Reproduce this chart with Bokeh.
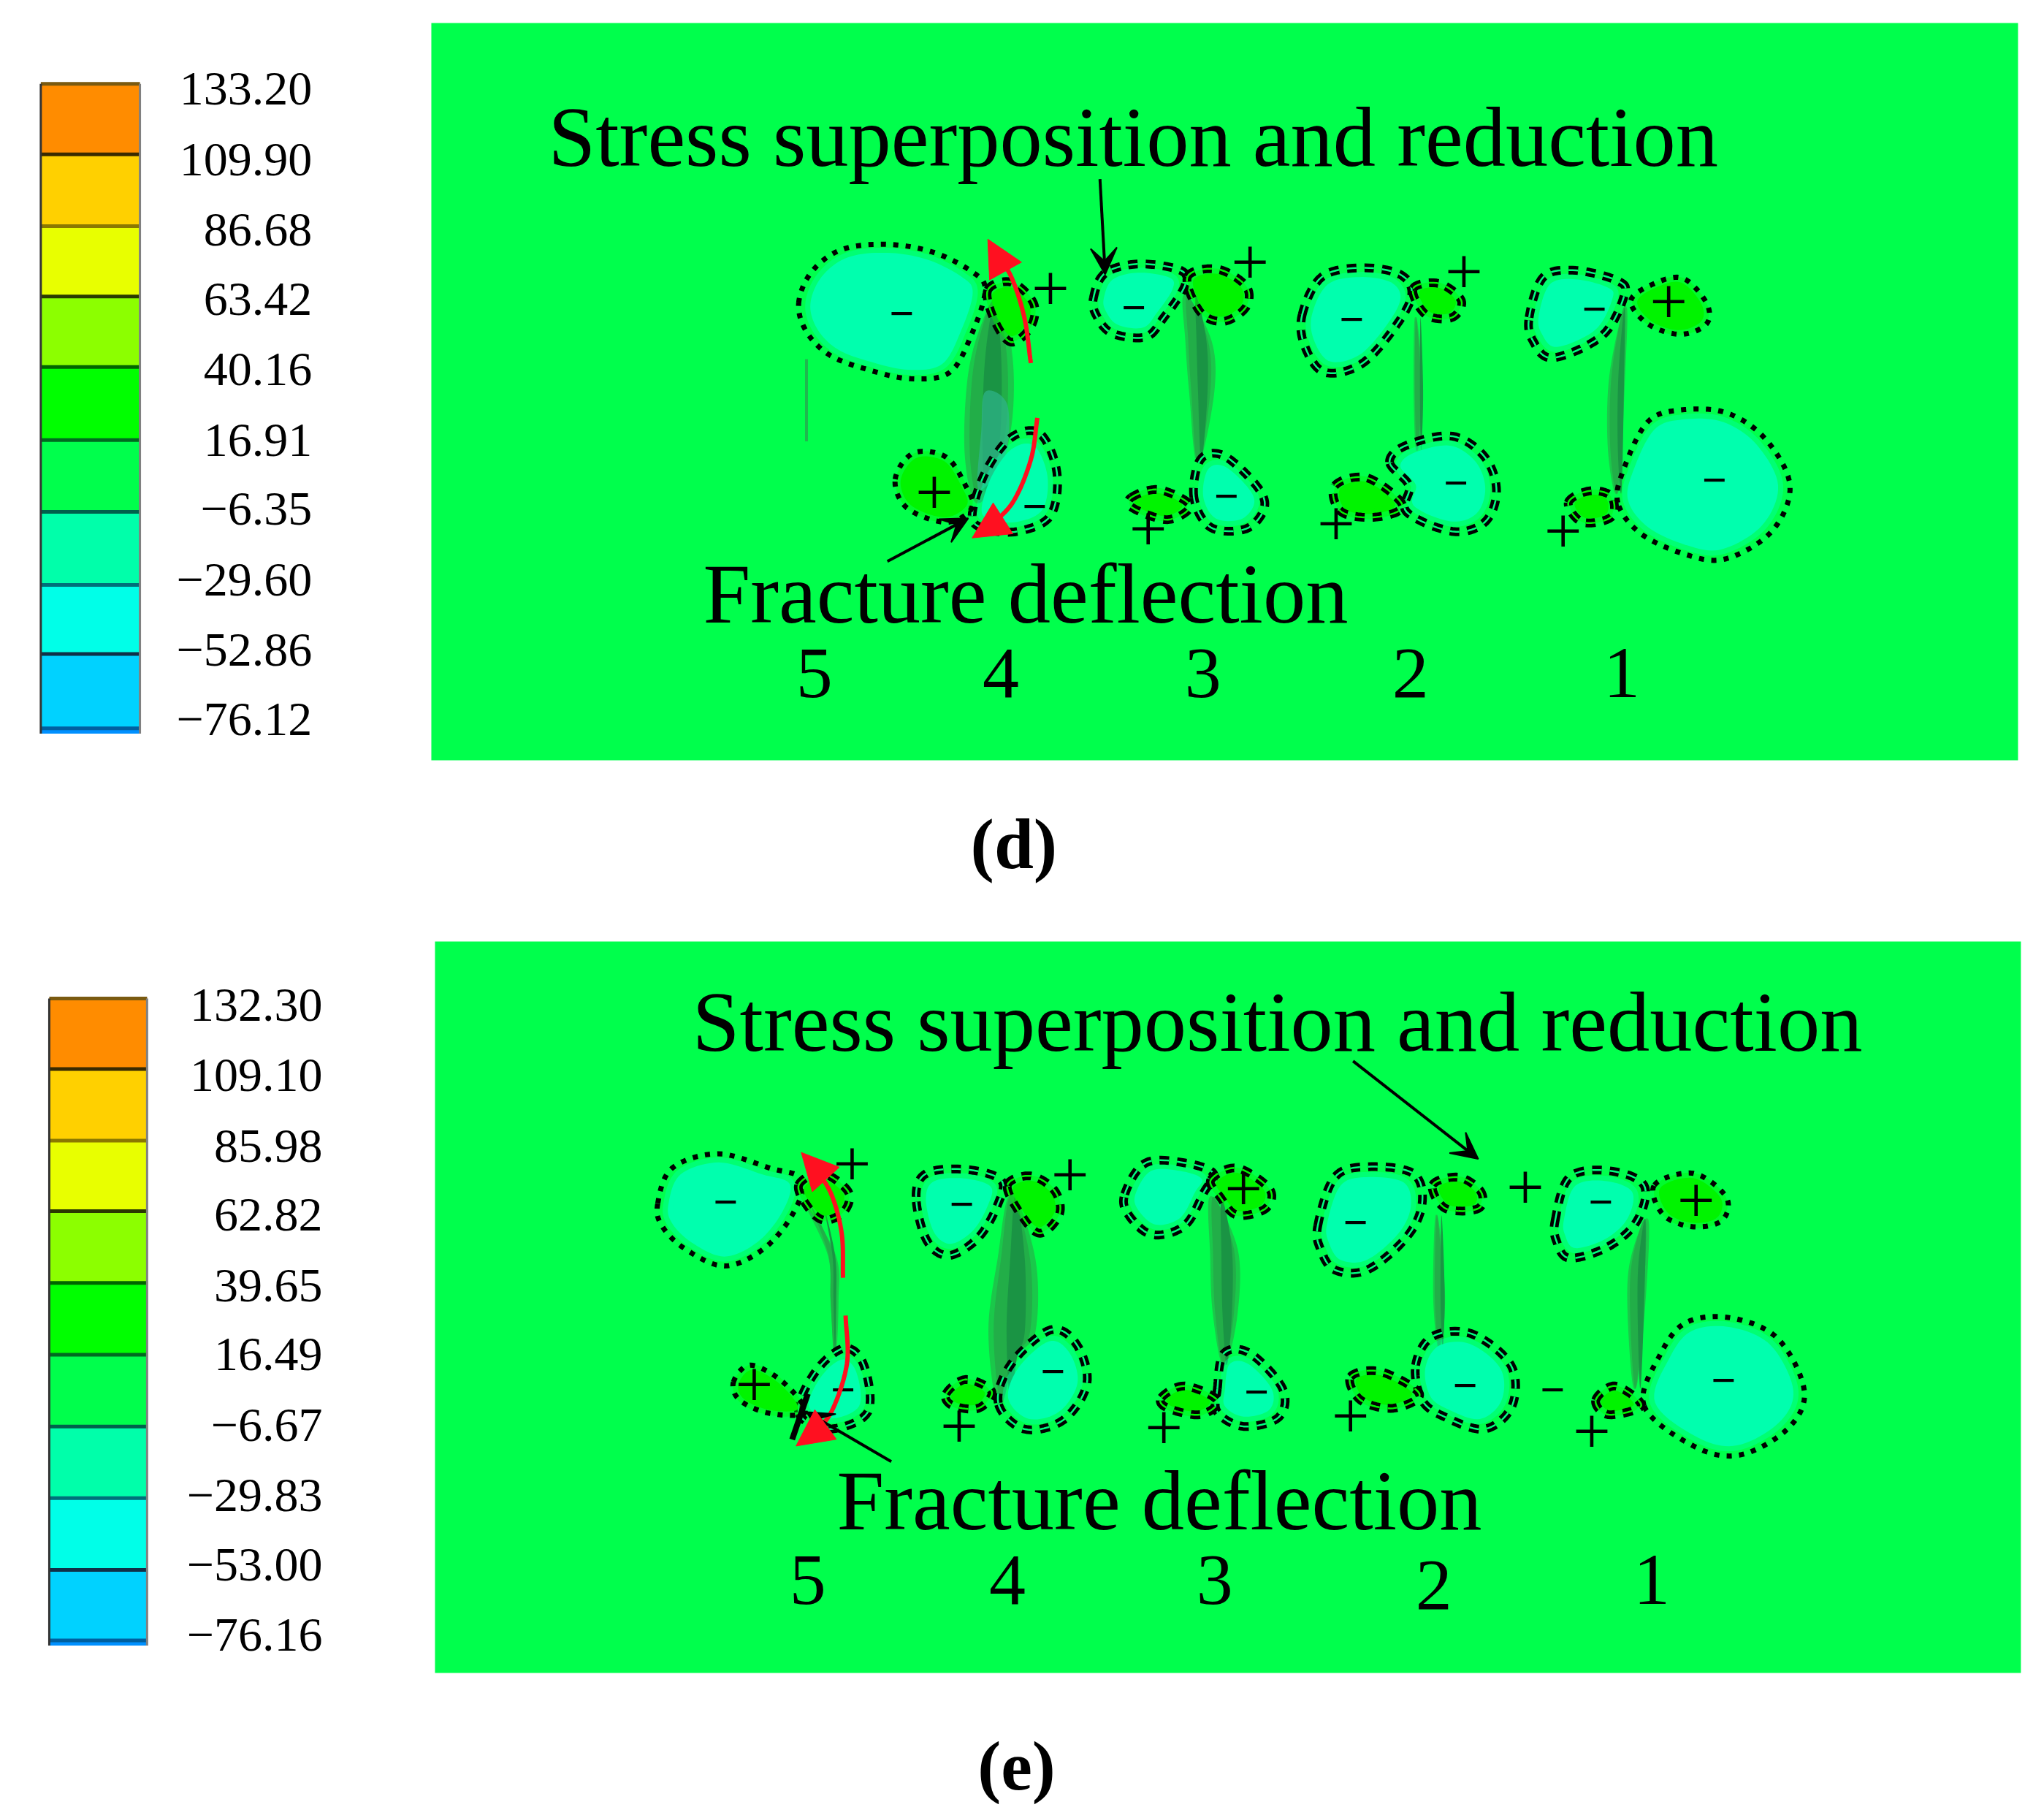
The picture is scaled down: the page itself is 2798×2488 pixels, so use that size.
import numpy as np
from bokeh.plotting import figure
from bokeh.models import Arrow, NormalHead, VeeHead
from bokeh.core.properties import value
from bokeh.embed import file_html
from bokeh.resources import INLINE

# ---------- legend data ----------
band_colors = ["#FF8C00", "#FFD000", "#E8FF00", "#8CFF00", "#00FF00",
               "#00FF4C", "#00FFAA", "#00FFE8", "#00D2FF", "#0090FF"]
band_lines = ["#7A5A10", "#3A2A00", "#8A7800", "#2A3A00", "#006400",
              "#006A20", "#00604C", "#00707A", "#103048", "#0060A0"]
d_ticks = ["133.20", "109.90", "86.68", "63.42", "40.16", "16.91", "\u22126.35", "\u221229.60", "\u221252.86", "\u221276.12"]
e_ticks = ["132.30", "109.10", "85.98", "62.82", "39.65", "16.49", "\u22126.67", "\u221229.83", "\u221253.00", "\u221276.16"]
d_tick_y = [69, 123, 177, 230, 284, 338, 391, 445, 499, 552]
e_tick_y = [771, 825, 879, 932, 986, 1039, 1093, 1147, 1200, 1254]
d_edges = [64, 118, 173, 227, 281, 337, 392, 448, 501, 558, 562]
e_edges = [765, 819, 874, 928, 983, 1038, 1093, 1148, 1203, 1257, 1261]

# ---------- contour regions, panel d ----------
d_teal_dotted = [
    [(612,232),(622,208),(645,191),(680,187),(715,193),(745,208),(755,222),(745,255),(728,285),(698,290),(665,283),(636,272),(618,254)],
    [(1240,385),(1245,358),(1263,323),(1288,314),(1323,316),(1353,336),(1372,372),(1358,407),(1323,428),(1293,425),(1258,409)],
]
d_teal_double = [
    [(838,228),(847,209),(873,202),(905,207),(908,219),(892,243),(878,258),(852,255),(840,241)],
    [(998,241),(1013,212),(1043,205),(1073,210),(1082,226),(1068,252),(1043,279),(1015,285),(1000,265)],
    [(1172,243),(1183,212),(1208,207),(1240,215),(1245,226),(1228,257),(1190,274),(1175,261)],
    [(1065,354),(1078,341),(1113,334),(1138,350),(1147,376),(1138,400),(1113,407),(1078,392),(1080,372)],
    [(915,381),(920,352),(938,349),(963,372),(969,389),(955,405),(928,404)],
    [(745,395),(755,362),(775,335),(797,332),(810,362),(805,395),(780,407),(755,405)],
]
d_green_dotted = [
    [(1250,230),(1268,217),(1290,213),(1308,232),(1308,248),(1288,256),(1263,248)],
    [(686,367),(700,347),(725,350),(740,372),(745,389),(725,400),(695,389)],
]
d_green_double = [
    [(910,212),(933,206),(955,219),(955,235),(938,246),(920,239)],
    [(1083,221),(1103,217),(1120,230),(1113,243),(1093,241)],
    [(1202,385),(1218,376),(1235,380),(1235,396),(1213,400)],
    [(1023,372),(1048,366),(1075,387),(1055,396),(1028,392)],
    [(867,381),(888,375),(912,387),(895,398),(868,389)],
    [(757,222),(775,216),(792,232),(790,250),(775,262),(762,245)],
]
d_cracks = [
    [(765,230),(776,280),(772,340),(750,385),(740,350),(742,290),(752,250)],
    [(908,226),(928,261),(930,301),(918,354),(912,301),(909,261)],
    [(1085,243),(1090,301),(1086,345),(1084,301)],
    [(1246,235),(1245,288),(1240,376),(1233,345),(1234,288)],
]
d_crack_tint = [(755,300),(772,310),(770,350),(750,375),(752,330)]
d_plus = [(805,221),(958,201),(1122,208),(1279,231),(716,377),(880,405),(1024,401),(1198,407)]
d_minus = [(691,240),(869,236),(1036,245),(1222,237),(793,388),(940,380),(1116,370),(1314,368)]
d_stray = [(618,275),(618,338)]
d_numbers = [(624,"5"),(767,"4"),(922,"3"),(1081,"2"),(1243,"1")]

# ---------- contour regions, panel e ----------
e_teal_dotted = [
    [(504,922),(515,895),(550,884),(590,895),(615,904),(607,931),(585,957),(555,970),(525,957),(507,939)],
    [(1260,1077),(1273,1037),(1293,1013),(1328,1010),(1363,1026),(1383,1066),(1370,1095),(1333,1115),(1298,1108)],
]
e_teal_double = [
    [(612,1082),(625,1051),(647,1033),(662,1046),(665,1082),(635,1095)],
    [(702,917),(710,899),(740,896),(767,904),(765,922),(750,948),(727,962),(710,950)],
    [(765,1075),(775,1045),(805,1019),(825,1030),(833,1060),(815,1088),(785,1095)],
    [(862,915),(878,891),(908,891),(930,899),(923,913),(908,939),(883,946),(865,931)],
    [(933,1064),(938,1037),(958,1037),(983,1064),(980,1086),(953,1093),(933,1082)],
    [(1010,939),(1023,902),(1048,894),(1083,899),(1090,922),(1078,948),(1048,973),(1023,973),(1012,957)],
    [(1085,1046),(1098,1024),(1128,1022),(1158,1046),(1159,1077),(1138,1095),(1108,1086),(1090,1073)],
    [(1192,935),(1203,902),(1233,897),(1260,908),(1255,935),(1233,955),(1203,964),(1193,951)],
]
e_green_dotted = [
    [(1268,908),(1298,899),(1323,917),(1320,935),(1298,940),(1275,931)],
    [(562,1059),(575,1046),(600,1059),(617,1082),(590,1083),(567,1073)],
]
e_green_double = [
    [(612,908),(630,899),(650,913),(647,928),(632,935),(620,926)],
    [(772,908),(790,901),(808,912),(812,930),(797,945),(782,930)],
    [(725,1068),(740,1057),(760,1066),(750,1079),(730,1077)],
    [(928,904),(948,895),(973,911),(970,926),(948,931),(935,917)],
    [(890,1071),(908,1062),(933,1073),(920,1084),(895,1079)],
    [(1098,908),(1118,902),(1135,913),(1133,926),(1108,926)],
    [(1035,1055),(1058,1051),(1088,1068),(1068,1079),(1043,1073)],
    [(1223,1073),(1238,1062),(1258,1077),(1233,1084)],
]
e_cracks = [
    [(617,922),(640,962),(642,997),(640,1037),(637,997),(635,962)],
    [(775,915),(793,965),(793,1020),(778,1040),(765,1075),(758,1020),(765,965)],
    [(928,917),(948,957),(948,1006),(938,1046),(930,1006),(928,962)],
    [(1101,931),(1107,993),(1103,1033),(1099,993)],
    [(1263,935),(1260,1006),(1253,1064),(1248,1006),(1250,966)],
]
e_plus = [(653,892),(820,900),(953,911),(1169,910),(1300,920),(578,1061),(735,1093),(892,1094),(1035,1085),(1220,1097)]
e_minus = [(556,921),(737,923),(1039,937),(1227,921),(1321,1058),(1190,1065),(1123,1062),(963,1067),(807,1051),(646,1065)]
e_numbers = [(619,"5"),(772,"4"),(931,"3"),(1099,"2"),(1266,"1")]

# ---------- arrows ----------
red_curves = [
    [(790,278),(785,243),(775,212),(762,192),(757,183)],
    [(795,320),(790,352),(776,385),(756,405),(745,412)],
    [(646,979),(645,945),(637,915),(624,894),(614,883)],
    [(648,1008),(649,1045),(637,1082),(621,1100),(610,1108)],
]
black_arrows = [
    ((843,137),(847,210)),
    ((680,430),(742,397)),
    ((1037,813),(1133,888)),
    ((683,1120),(618,1082)),
]
black_strokes = [[(607,1103),(619,1068)]]

# ---------- canvas ----------
S = 2798 / 1567
p = figure(width=2782, height=2472, x_range=(0, 2782 / S), y_range=(2472 / S, 0),
           output_backend="svg", toolbar_location=None, min_border=0)
p.axis.visible = False
p.grid.visible = False
p.outline_line_color = None
p.background_fill_color = "white"
p.border_fill_color = "white"

FONT = value("Liberation Serif")
BG = "#00FF4C"
TEAL = "#00FFAE"
GREEN = "#00F400"


def smooth(pts, n=10):
    a = np.array(pts, dtype=float)
    m = len(a)
    out = []
    for i in range(m):
        p0, p1, p2, p3 = a[(i - 1) % m], a[i], a[(i + 1) % m], a[(i + 2) % m]
        for t in np.linspace(0, 1, n, endpoint=False):
            out.append(0.5 * (2 * p1 + (p2 - p0) * t + (2 * p0 - 5 * p1 + 4 * p2 - p3) * t ** 2
                              + (3 * p1 - p0 - 3 * p2 + p3) * t ** 3))
    out.append(out[0])
    o = np.array(out)
    return o[:, 0], o[:, 1]


def smooth_open(pts, n=10):
    a = np.array(pts, dtype=float)
    e = np.vstack([2 * a[0] - a[1], a, 2 * a[-1] - a[-2]])
    out = []
    for i in range(1, len(e) - 2):
        p0, p1, p2, p3 = e[i - 1], e[i], e[i + 1], e[i + 2]
        for t in np.linspace(0, 1, n, endpoint=False):
            out.append(0.5 * (2 * p1 + (p2 - p0) * t + (2 * p0 - 5 * p1 + 4 * p2 - p3) * t ** 2
                              + (3 * p1 - p0 - 3 * p2 + p3) * t ** 3))
    o = np.array(out)
    return o[:, 0].tolist(), o[:, 1].tolist()


def regions(shapes, fill, dotted):
    outlines = [smooth(s) for s in shapes]
    inset = 8 if fill == TEAL else 4
    fx, fy = [], []
    for x, y in outlines:
        # the coloured area stops just inside its contour line
        cx, cy = x.mean(), y.mean()
        k = max(0.72, 1 - inset / (0.5 * (x.max() - x.min() + y.max() - y.min()) / 2))
        fx.append((cx + (x - cx) * k).tolist())
        fy.append((cy + (y - cy) * k).tolist())
    p.patches(fx, fy, fill_color=fill, line_color=fill, line_width=14, line_alpha=0.4)
    xs = [o[0].tolist() for o in outlines]
    ys = [o[1].tolist() for o in outlines]
    if dotted:
        p.multi_line(xs, ys, line_color="black", line_width=7, line_dash="7 10")
    else:
        p.multi_line(xs, ys, line_color="black", line_width=12, line_dash="13 11")
        p.multi_line(xs, ys, line_color="#00FF80" if fill == TEAL else fill, line_width=2.5, line_dash="13 11")


def cracks(shapes):
    for s in shapes:
        x, y = smooth(s)
        cx = x.mean()
        p.patch(x.tolist(), y.tolist(), fill_color="#1AC84A", line_color="#1AC84A", line_width=2)
        p.patch((cx + (x - cx) * 0.8).tolist(), y.tolist(), fill_color="#22AE48", line_color=None)
        p.patch((cx + 3 + (x - cx) * 0.4).tolist(), y.tolist(), fill_color="#1A9444", line_color=None)


def labels(x, y, text, size, align="center", style="normal"):
    p.text(x, y, text=text, text_font=FONT, text_font_size=size, text_align=align,
           text_baseline="middle", text_color="black", text_font_style=style)


def colorbar(x0, x1, edges, ticks, tick_y, tick_right):
    p.quad(left=x0, right=x1, top=edges[:-1], bottom=edges[1:], fill_color=band_colors,
           line_color=None)
    p.segment(x0=[x0] * 10, x1=[x1] * 10, y0=edges[:10], y1=edges[:10], line_color=band_lines, line_width=5)
    p.segment(x0=[x0], x1=[x0], y0=[edges[0]], y1=[edges[-1]], line_color="#333333", line_width=3)
    p.segment(x0=[x1], x1=[x1], y0=[edges[0]], y1=[edges[-1]], line_color="#808080", line_width=3)
    labels([tick_right] * 10, tick_y, ticks, "66px", "right")


def signs(plus, minus):
    labels([q[0] for q in plus], [q[1] for q in plus], ["+"] * len(plus), "92px")
    labels([q[0] for q in minus], [q[1] for q in minus], ["\u2212"] * len(minus), "60px", style="bold")


# panels
p.quad(left=[330.4, 333.2], right=[1546.8, 1549], top=[17.4, 721.3], bottom=[582.4, 1282],
       fill_color=BG, line_color=None)

colorbar(31, 107, d_edges, d_ticks, [v - 1 for v in d_tick_y], 239)
colorbar(37.5, 112.5, e_edges, e_ticks, [v - 1 for v in e_tick_y], 247)

p.line([q[0] for q in d_stray], [q[1] for q in d_stray], line_color="#1FB84F", line_width=4)

for crk, td, tw, gd, gw, pl, mi in [
    (d_cracks, d_teal_dotted, d_teal_double, d_green_dotted, d_green_double, d_plus, d_minus),
    (e_cracks, e_teal_dotted, e_teal_double, e_green_dotted, e_green_double, e_plus, e_minus),
]:
    cracks(crk)
    if crk is d_cracks:
        tx, ty = smooth(d_crack_tint)
        p.patch(tx.tolist(), ty.tolist(), fill_color="#2FB48C", line_color=None, alpha=0.7)
    regions(tw, TEAL, False)
    regions(td, TEAL, True)
    regions(gw, GREEN, False)
    regions(gd, GREEN, True)
    signs(pl, mi)

# text
labels([868.5], [105], ["Stress superposition and reduction"], "116.5px")
labels([979], [783], ["Stress superposition and reduction"], "116.5px")
labels([786], [455], ["Fracture deflection"], "116.5px")
labels([888.5], [1150], ["Fracture deflection"], "116.5px")
labels([q[0] for q in d_numbers], [516] * 5, [q[1] for q in d_numbers], "100px")
labels([q[0] for q in e_numbers], [1211, 1211, 1211, 1215, 1211], [q[1] for q in e_numbers], "100px")
labels([777], [647], ["(d)"], "97px", style="bold")
labels([779], [1353], ["(e)"], "96px", style="bold")

# arrows
for (a, b) in black_arrows:
    p.add_layout(Arrow(end=VeeHead(size=36, fill_color="black", line_color="black", line_width=2),
                       x_start=a[0], y_start=a[1], x_end=b[0], y_end=b[1],
                       line_color="black", line_width=4))
for st in black_strokes:
    p.line([q[0] for q in st], [q[1] for q in st], line_color="black", line_width=8)
for c in red_curves:
    cx, cy = smooth_open(c[:-1])
    p.line(cx, cy, line_color="#FF1020", line_width=6)
    p.add_layout(Arrow(end=NormalHead(size=50, fill_color="#FF1020", line_color="#FF1020"),
                       x_start=c[-2][0], y_start=c[-2][1], x_end=c[-1][0], y_end=c[-1][1],
                       line_color="#FF1020", line_width=6))

open("out.html", "w").write(file_html(p, INLINE))
